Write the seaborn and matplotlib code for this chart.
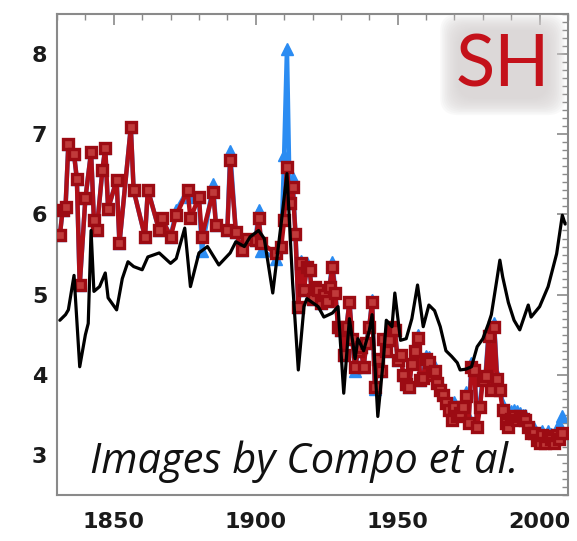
import matplotlib
matplotlib.use("Agg")
import matplotlib.pyplot as plt
import seaborn as sns
from matplotlib.patches import FancyBboxPatch
from matplotlib.ticker import MultipleLocator

# ---- series -------------------------------------------------------------
early_years = [1831, 1832, 1833, 1834, 1836, 1837, 1838, 1840, 1842, 1843,
               1844, 1846, 1847, 1848, 1851, 1852, 1856, 1857, 1861, 1862,
               1866, 1867, 1870, 1872, 1876, 1877, 1880, 1881, 1885, 1886,
               1890, 1891, 1893, 1895, 1897, 1900, 1901, 1902, 1907, 1909,
               1910, 1911, 1912, 1913, 1914, 1915, 1916, 1917, 1918, 1919,
               1920, 1921, 1922, 1923, 1924, 1925, 1926, 1927]
annual_years = list(range(1928, 2009))
years = early_years + annual_years

red_values = [
    5.74, 6.06, 6.09, 6.88, 6.75, 6.44, 5.12, 6.20, 6.78, 5.93,
    5.80, 6.56, 6.83, 6.07, 6.43, 5.64, 7.09, 6.30, 5.72, 6.31,
    5.80, 5.95, 5.72, 5.99, 6.30, 5.95, 6.22, 5.72, 6.28, 5.87,
    5.80, 6.68, 5.78, 5.56, 5.70, 5.68, 5.95, 5.64, 5.52, 5.60,
    5.93, 6.59, 6.14, 6.34, 5.76, 4.85, 5.39, 5.06, 5.35, 5.31,
    4.95, 5.10, 5.06, 4.90, 5.00, 4.92, 5.10, 5.35,
    # 1928 - 2008
    5.02, 4.60, 4.56, 4.25, 4.60, 4.91, 4.45, 4.10, 4.30, 4.35,
    4.10, 4.40, 4.60, 4.91, 3.85, 4.20, 4.05, 4.45, 4.30, 4.43,
    4.60, 4.56, 4.19, 4.25, 4.00, 3.89, 3.85, 4.14, 4.30, 4.46,
    3.93, 3.96, 4.20, 4.16, 4.00, 4.05, 3.90, 3.81, 3.75, 3.65,
    3.56, 3.44, 3.60, 3.48, 3.52, 3.60, 3.73, 3.40, 4.10, 4.06,
    3.35, 3.60, 3.93, 3.98, 4.48, 3.81, 4.60, 3.95, 3.81, 3.56,
    3.40, 3.35, 3.45, 3.48, 3.44, 3.48, 3.45, 3.44, 3.35, 3.27,
    3.27, 3.19, 3.15, 3.25, 3.15, 3.23, 3.20, 3.15, 3.25, 3.20,
    3.27,
]

blue_values = [
    5.74, 6.06, 6.09, 6.88, 6.75, 6.44, 5.12, 6.20, 6.78, 5.93,
    5.80, 6.56, 6.83, 6.07, 6.43, 5.64, 7.09, 6.30, 5.72, 6.31,
    5.80, 5.95, 5.72, 6.05, 6.30, 6.22, 6.22, 5.55, 6.38, 5.87,
    5.80, 6.79, 5.78, 5.56, 5.70, 5.68, 6.05, 5.55, 5.45, 5.60,
    6.74, 8.07, 6.14, 6.45, 5.76, 4.85, 5.42, 5.06, 5.40, 5.31,
    4.95, 5.10, 5.06, 4.90, 5.00, 4.92, 5.10, 5.41,
    # 1928 - 2008
    5.05, 4.60, 4.56, 4.25, 4.60, 4.91, 4.45, 4.05, 4.30, 4.35,
    4.10, 4.40, 4.60, 4.93, 3.82, 4.20, 4.05, 4.45, 4.30, 4.43,
    4.62, 4.56, 4.19, 4.25, 4.00, 3.89, 3.85, 4.18, 4.34, 4.50,
    3.93, 3.98, 4.24, 4.22, 4.05, 4.10, 3.95, 3.88, 3.82, 3.70,
    3.62, 3.50, 3.66, 3.54, 3.58, 3.66, 3.78, 3.46, 4.15, 4.10,
    3.40, 3.66, 3.98, 4.03, 4.52, 3.86, 4.64, 4.00, 3.88, 3.62,
    3.48, 3.42, 3.55, 3.56, 3.55, 3.52, 3.50, 3.50, 3.40, 3.33,
    3.33, 3.25, 3.22, 3.30, 3.22, 3.30, 3.26, 3.24, 3.32, 3.38,
    3.48,
]

black_years = [1831, 1833, 1834, 1836, 1838, 1840, 1841, 1842, 1843, 1845,
               1847, 1848, 1851, 1853, 1855, 1857, 1860, 1862, 1866, 1870,
               1872, 1875, 1877, 1880, 1883, 1887, 1891, 1893, 1896, 1898,
               1901, 1903, 1906, 1909, 1911, 1913, 1915, 1917, 1918, 1920,
               1922, 1924, 1927, 1929, 1931, 1933, 1935, 1936, 1938, 1940,
               1941, 1943, 1945, 1946, 1948, 1949, 1951, 1953, 1955, 1957,
               1959, 1961, 1963, 1965, 1967, 1969, 1971, 1972, 1974, 1976,
               1978, 1980, 1982, 1983, 1985, 1986, 1987, 1989, 1991, 1993,
               1996, 1997, 2000, 2003, 2006, 2008, 2009]
black_values = [4.68, 4.75, 4.81, 5.24, 4.10, 4.50, 4.64, 5.80, 5.04, 5.10,
                5.27, 4.96, 4.81, 5.20, 5.41, 5.35, 5.31, 5.47, 5.52, 5.39,
                5.45, 5.83, 5.10, 5.52, 5.60, 5.37, 5.52, 5.66, 5.60, 5.72,
                5.80, 5.70, 5.02, 5.90, 6.51, 5.14, 4.06, 4.85, 4.95, 4.90,
                4.85, 4.72, 4.77, 4.85, 3.77, 4.70, 4.20, 4.45, 4.30, 4.55,
                4.75, 3.48, 4.20, 4.68, 4.60, 5.02, 4.43, 4.45, 4.70, 5.12,
                4.60, 4.87, 4.80, 4.60, 4.30, 4.23, 4.15, 4.06, 4.07, 4.10,
                4.35, 4.45, 4.64, 4.75, 5.20, 5.43, 5.22, 4.90, 4.68, 4.56,
                4.87, 4.72, 4.85, 5.10, 5.51, 5.99, 5.88]

x_ticks = [1850, 1900, 1950, 2000]
y_ticks = [3, 4, 5, 6, 7, 8]

# ---- figure -------------------------------------------------------------
sns.set_theme(style="white")
plt.rcParams["font.family"] = ["DejaVu Sans"]

fig = plt.figure(figsize=(5.77, 5.41), dpi=100)
ax = fig.add_axes([0.0988, 0.085, 0.8856, 0.889])

sns.lineplot(x=years, y=blue_values, ax=ax, color="#2b8cf2", lw=3.2,
             marker="^", ms=8, mec="#2b8cf2", mew=1,
             estimator=None, sort=False, zorder=2)
sns.lineplot(x=years, y=red_values, ax=ax, color="#b00f18", lw=3.2,
             marker="s", ms=7.5, mfc="#c03a3a", mec="#9c0b13", mew=2.4,
             estimator=None, sort=False, zorder=3)
sns.lineplot(x=black_years, y=black_values, ax=ax, color="black", lw=2.3,
             estimator=None, sort=False, zorder=4)

ax.set_xlim(1830, 2010)
ax.set_ylim(2.5, 8.5)
ax.set_xticks(x_ticks)
ax.set_yticks(y_ticks)
ax.xaxis.set_minor_locator(MultipleLocator(10))
ax.yaxis.set_minor_locator(MultipleLocator(0.1))
ax.set_xlabel("")
ax.set_ylabel("")

ax.tick_params(which="both", direction="in", top=True, right=True,
               color="#8a8a8a", labelcolor="#1a1a1a")
ax.tick_params(which="major", length=8, width=1.2)
ax.tick_params(which="minor", length=4, width=1)
ax.tick_params(axis="x", pad=12, labelsize=16)
ax.tick_params(axis="y", pad=7, labelsize=16)
for lbl in ax.get_xticklabels() + ax.get_yticklabels():
    lbl.set_fontweight("bold")
for sp in ax.spines.values():
    sp.set_color("#8a8a8a")
    sp.set_linewidth(1.5)

# ---- "SH" badge with a soft shadow ---------------------------------------
x0, y0, w, h = 0.785, 0.825, 0.175, 0.14
for i in range(12):
    pad = 0.035 * (1 - i / 11)
    ax.add_patch(FancyBboxPatch((x0, y0), w, h,
                                boxstyle=f"round,pad={pad:.4f},rounding_size=0.035",
                                transform=ax.transAxes, facecolor="#d8d3d3",
                                edgecolor="none", alpha=0.13, zorder=6))
ax.text(x0 + w / 2, y0 + h / 2 - 0.004, "SH", transform=ax.transAxes,
        ha="center", va="center", fontsize=52, color="#c4111a",
        family=["Lato", "DejaVu Sans"], fontweight="normal", zorder=7)

ax.text(0.065, 0.046, "Images by Compo et al.", transform=ax.transAxes,
        ha="left", va="baseline", fontsize=30, style="italic",
        family=["Open Sans", "DejaVu Sans"], fontweight="normal",
        color="#111111", zorder=8)

fig.savefig("out.png", dpi=100, facecolor="white")
